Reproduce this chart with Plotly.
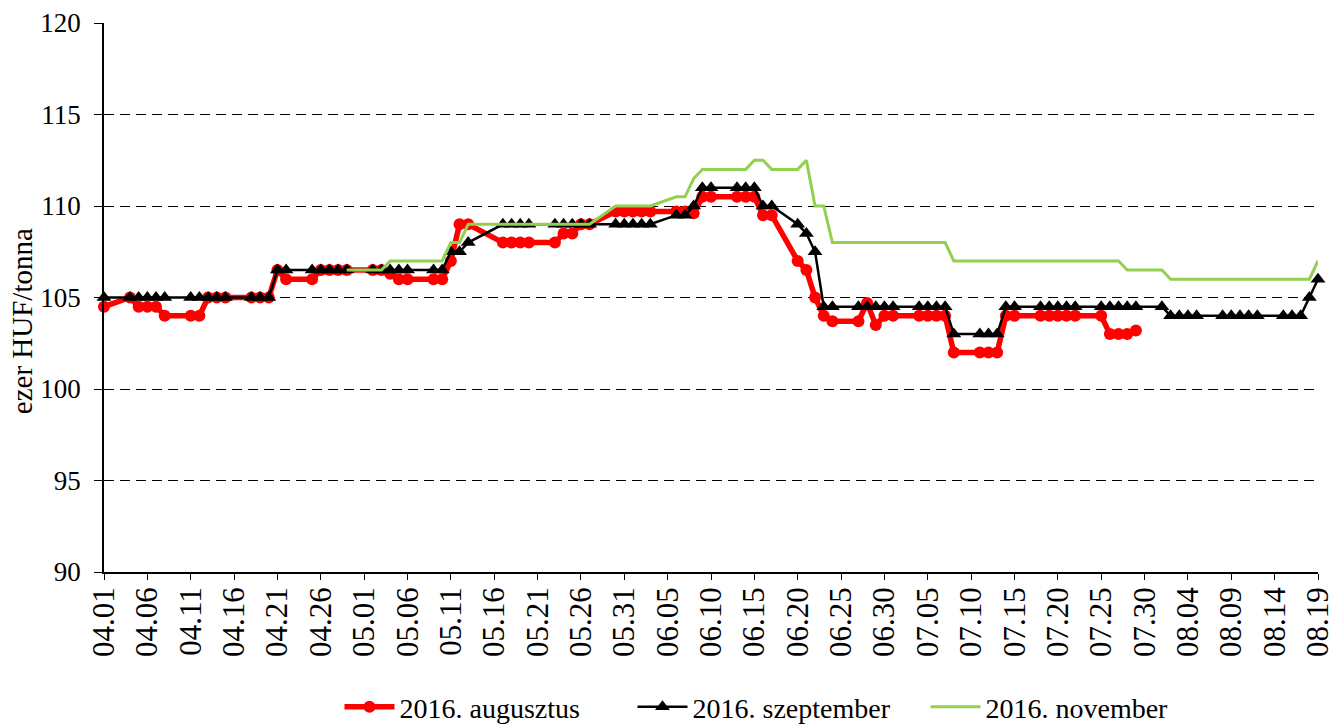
import plotly.graph_objects as go
import pandas as pd

# Trading days (2016)
dates = [
    "2016-04-01",
    "2016-04-04", "2016-04-05", "2016-04-06", "2016-04-07", "2016-04-08",
    "2016-04-11", "2016-04-12", "2016-04-13", "2016-04-14", "2016-04-15",
    "2016-04-18", "2016-04-19", "2016-04-20", "2016-04-21", "2016-04-22",
    "2016-04-25", "2016-04-26", "2016-04-27", "2016-04-28", "2016-04-29",
    "2016-05-02", "2016-05-03", "2016-05-04", "2016-05-05", "2016-05-06",
    "2016-05-09", "2016-05-10", "2016-05-11", "2016-05-12", "2016-05-13",
    "2016-05-17", "2016-05-18", "2016-05-19", "2016-05-20",
    "2016-05-23", "2016-05-24", "2016-05-25", "2016-05-26", "2016-05-27",
    "2016-05-30", "2016-05-31", "2016-06-01", "2016-06-02", "2016-06-03",
    "2016-06-06", "2016-06-07", "2016-06-08", "2016-06-09", "2016-06-10",
    "2016-06-13", "2016-06-14", "2016-06-15", "2016-06-16", "2016-06-17",
    "2016-06-20", "2016-06-21", "2016-06-22", "2016-06-23", "2016-06-24",
    "2016-06-27", "2016-06-28", "2016-06-29", "2016-06-30", "2016-07-01",
    "2016-07-04", "2016-07-05", "2016-07-06", "2016-07-07", "2016-07-08",
    "2016-07-11", "2016-07-12", "2016-07-13", "2016-07-14", "2016-07-15",
    "2016-07-18", "2016-07-19", "2016-07-20", "2016-07-21", "2016-07-22",
    "2016-07-25", "2016-07-26", "2016-07-27", "2016-07-28", "2016-07-29",
    "2016-08-01", "2016-08-02", "2016-08-03", "2016-08-04", "2016-08-05",
    "2016-08-08", "2016-08-09", "2016-08-10", "2016-08-11", "2016-08-12",
    "2016-08-15", "2016-08-16", "2016-08-17", "2016-08-18", "2016-08-19",
]

aug_values = [
    104.5,
    105, 104.5, 104.5, 104.5, 104,
    104, 104, 105, 105, 105,
    105, 105, 105, 106.5, 106,
    106, 106.5, 106.5, 106.5, 106.5,
    106.5, 106.5, 106.3, 106, 106,
    106, 106, 107, 109, 109,
    108, 108, 108, 108,
    108, 108.5, 108.5, 109, 109,
    109.7, 109.7, 109.7, 109.7, 109.7,
    109.7, 109.7, 109.6, 110.5, 110.5,
    110.5, 110.5, 110.5, 109.5, 109.5,
    107, 106.5, 105, 104, 103.7,
    103.7, 104.7, 103.5, 104, 104,
    104, 104, 104, 104, 102,
    102, 102, 102, 104, 104,
    104, 104, 104, 104, 104,
    104, 103, 103, 103, 103.2,
]

sep_values = [
    105,
    105, 105, 105, 105, 105,
    105, 105, 105, 105, 105,
    105, 105, 105, 106.5, 106.5,
    106.5, 106.5, 106.5, 106.5, 106.5,
    106.5, 106.5, 106.5, 106.5, 106.5,
    106.5, 106.5, 107.5, 107.5, 108,
    109, 109, 109, 109,
    109, 109, 109, 109, 109,
    109, 109, 109, 109, 109,
    109.5, 109.5, 110, 111, 111,
    111, 111, 111, 110, 110,
    109, 108.5, 107.5, 104.5, 104.5,
    104.5, 104.5, 104.5, 104.5, 104.5,
    104.5, 104.5, 104.5, 104.5, 103,
    103, 103, 103, 104.5, 104.5,
    104.5, 104.5, 104.5, 104.5, 104.5,
    104.5, 104.5, 104.5, 104.5, 104.5,
    104.5, 104, 104, 104, 104,
    104, 104, 104, 104, 104,
    104, 104, 104, 105, 106,
]

nov_values = [
    None,
    None, None, None, None, None,
    None, None, None, None, None,
    None, None, None, None, None,
    None, None, None, None, 106.5,
    106.5, 106.5, 107, 107, 107,
    107, 107, 108, 108, 109,
    109, 109, 109, 109,
    109, 109, 109, 109, 109,
    110, 110, 110, 110, 110,
    110.5, 110.5, 111.5, 112, 112,
    112, 112, 112.5, 112.5, 112,
    112, 112.5, 110, 110, 108,
    108, 108, 108, 108, 108,
    108, 108, 108, 108, 107,
    107, 107, 107, 107, 107,
    107, 107, 107, 107, 107,
    107, 107, 107, 106.5, 106.5,
    106.5, 106, 106, 106, 106,
    106, 106, 106, 106, 106,
    106, 106, 106, 106, 107,
]

series_names = ["2016. augusztus", "2016. szeptember", "2016. november"]
y_title = "ezer HUF/tonna"
tick_dates = pd.date_range("2016-04-01", "2016-08-19", freq="5D")

FONT = "Liberation Serif, Times New Roman, serif"

fig = go.Figure()
fig.add_trace(go.Scatter(
    x=dates[:len(aug_values)], y=aug_values, name=series_names[0],
    mode="lines+markers", line=dict(color="#FF0000", width=5.5),
    marker=dict(symbol="circle", size=12, color="#FF0000"),
    cliponaxis=False,
))
fig.add_trace(go.Scatter(
    x=dates, y=sep_values, name=series_names[1],
    mode="lines+markers", line=dict(color="#000000", width=2.5),
    marker=dict(symbol="triangle-up", size=13, color="#000000"),
    cliponaxis=False,
))
fig.add_trace(go.Scatter(
    x=dates, y=nov_values, name=series_names[2],
    mode="lines", line=dict(color="#92D050", width=3),
    connectgaps=False, cliponaxis=False,
))

fig.add_annotation(
    text=y_title, textangle=-90, showarrow=False,
    xref="paper", yref="paper", x=-0.0675, y=0.457,
    xanchor="center", yanchor="middle",
    font=dict(family=FONT, size=29, color="black"),
)

fig.update_layout(
    width=1333, height=724,
    margin=dict(l=104, r=15, t=23, b=152, autoexpand=False),
    paper_bgcolor="white", plot_bgcolor="white",
    font=dict(family=FONT, size=28, color="black"),
    showlegend=True,
    legend=dict(
        orientation="h", x=0.556, xanchor="center", y=-0.246, yanchor="middle",
        font=dict(family=FONT, size=28, color="black"),
        itemwidth=50, tracegroupgap=0,
        entrywidth=228, entrywidthmode="pixels",
    ),
    xaxis=dict(
        type="date",
        range=["2016-04-01", "2016-08-19"],
        tickmode="array", tickvals=list(tick_dates),
        ticktext=[d.strftime("%m.%d") for d in tick_dates],
        tickangle=-90, ticks="outside", ticklen=6, tickcolor="black",
        ticklabelstandoff=-5, ticklabeloverflow="allow",
        showline=True, linecolor="black", linewidth=1.5,
        showgrid=False, zeroline=False, automargin=False,
        tickfont=dict(family=FONT, size=31, color="black"),
    ),
    yaxis=dict(
        range=[90, 120], tickmode="linear", tick0=90, dtick=5,
        ticks="outside", ticklen=8, tickcolor="black",
        ticklabelstandoff=8,
        showline=True, linecolor="black", linewidth=1.5,
        showgrid=True, gridcolor="black", gridwidth=1.3, griddash="10px,6px",
        zeroline=False, automargin=False,
        tickfont=dict(family=FONT, size=27, color="black"),
    ),
)

fig.write_html(
    "out.html",
    config={"displayModeBar": False},
    post_script="document.body.style.margin='0';document.body.style.overflow='hidden';",
)
